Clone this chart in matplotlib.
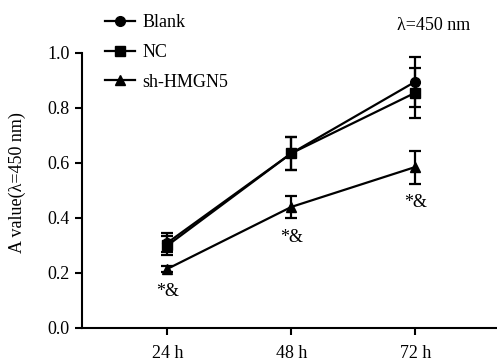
import numpy as np
import matplotlib
matplotlib.use("Agg")
import matplotlib.pyplot as plt

plt.rcParams['font.family'] = ['Liberation Serif', 'DejaVu Serif']

# data
times = ["24 h", "48 h", "72 h"]
blank = [0.31, 0.635, 0.895]
blank_err = [0.035, 0.06, 0.09]
nc = [0.30, 0.635, 0.855]
nc_err = [0.035, 0.06, 0.09]
sh = [0.215, 0.44, 0.585]
sh_err = [0.01, 0.04, 0.06]
sig_label = "*&"

x = np.arange(len(times))
fs = 13

fig = plt.figure(figsize=(4.97, 3.62), dpi=100)
ax = fig.add_axes([0.165, 0.094, 0.835, 0.76])

kw = dict(color='black', lw=1.6, capsize=4, capthick=1.6, elinewidth=1.6)
e1 = ax.errorbar(x, blank, yerr=blank_err, marker='o', ms=7, label='Blank', **kw)
e2 = ax.errorbar(x, nc, yerr=nc_err, marker='s', ms=7, label='NC', **kw)
e3 = ax.errorbar(x, sh, yerr=sh_err, marker='^', ms=7, label='sh-HMGN5', **kw)

for xi, v, e in zip(x, sh, sh_err):
    ax.annotate(sig_label, (xi, v - e), xytext=(0, -14), textcoords='offset points',
                ha='center', va='center', fontsize=fs)

ax.set_xlim(-0.69, 2.66)
ax.set_ylim(0, 1.0)
ax.set_xticks(x)
ax.set_xticklabels(times)
ax.set_yticks([0.0, 0.2, 0.4, 0.6, 0.8, 1.0])
ax.set_yticklabels(["0.0", "0.2", "0.4", "0.6", "0.8", "1.0"])
ax.tick_params(direction='out', length=5, width=1.5, labelsize=fs)
ax.tick_params(axis='x', pad=7)
ax.tick_params(axis='y', pad=4)
ax.set_ylabel("A value(\u03bb=450 nm)", fontsize=fs)
ax.yaxis.set_label_coords(-0.135, 0.527)
for s in ['top', 'right']:
    ax.spines[s].set_visible(False)
for s in ['left', 'bottom']:
    ax.spines[s].set_linewidth(1.5)

handles = [e1[0], e2[0], e3[0]]
fig.legend(handles, ['Blank', 'NC', 'sh-HMGN5'], loc='upper left',
           bbox_to_anchor=(0.211, 0.96), frameon=False, fontsize=fs,
           handlelength=1.67, labelspacing=0.7, handletextpad=0.4,
           borderpad=0, borderaxespad=0)

fig.text(0.873, 0.93, "\u03bb=450 nm", ha='center', va='center', fontsize=fs)

fig.savefig("out.png", dpi=100)
